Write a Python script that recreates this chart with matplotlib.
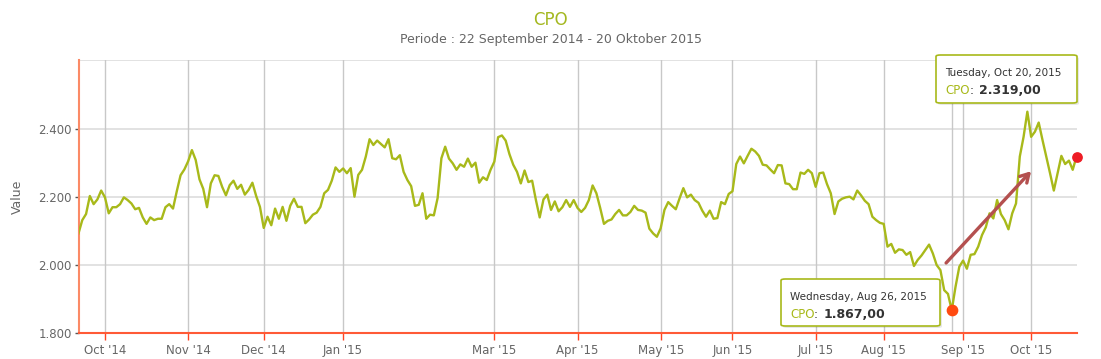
import matplotlib

matplotlib.use("Agg")
import matplotlib.pyplot as plt
import numpy as np
from matplotlib.patches import FancyBboxPatch

# CPO daily closing price, 22 Sep 2014 - 20 Oct 2015 (one value per trading day)
cpo_values = [
    2093, 2132, 2150, 2203, 2179, 2193, 2219, 2199, 2152, 2170,
    2170, 2179, 2199, 2191, 2181, 2164, 2168, 2140, 2121, 2140,
    2132, 2136, 2136, 2170, 2179, 2166, 2217, 2264, 2281, 2305,
    2338, 2309, 2252, 2224, 2170, 2240, 2264, 2262,
    2230, 2205, 2235, 2248, 2224, 2236, 2207, 2221, 2242, 2203,
    2171, 2109, 2142, 2117, 2166, 2136, 2171, 2130, 2174, 2195,
    2171, 2171, 2123, 2134, 2148, 2154, 2171, 2211, 2221, 2248,
    2287, 2274, 2284, 2270, 2285, 2201, 2265, 2280, 2319,
    2370, 2353, 2366, 2356, 2346, 2370, 2314, 2311, 2323, 2274,
    2250, 2232, 2174, 2177, 2211, 2136, 2148, 2146, 2197, 2314,
    2348, 2313, 2299, 2280, 2296, 2289, 2313, 2289, 2301, 2242,
    2258, 2250, 2280, 2304, 2376, 2381, 2366,
    2326, 2295, 2274, 2240, 2278, 2244, 2248, 2191, 2140, 2193,
    2207, 2162, 2187, 2158, 2170, 2191, 2171, 2191, 2168, 2156,
    2168, 2191, 2234, 2211, 2168, 2121, 2130, 2134, 2150, 2162,
    2146, 2146, 2156, 2174, 2162, 2160, 2154, 2107, 2093,
    2083, 2108, 2162, 2185, 2174, 2164, 2196, 2226, 2199, 2207,
    2191, 2183, 2160, 2142, 2160, 2136, 2138, 2185, 2179, 2209,
    2217, 2297, 2319, 2299, 2321, 2342, 2334, 2321, 2295, 2293,
    2281, 2270, 2294, 2293, 2240, 2238, 2223, 2223,
    2272, 2268, 2280, 2270, 2230, 2270, 2272, 2238, 2211, 2150,
    2187, 2195, 2199, 2201, 2193, 2219, 2205, 2189, 2179, 2142,
    2132, 2124, 2121, 2054, 2062, 2036, 2046, 2044, 2030, 2038,
    1997, 2015, 2028, 2044, 2060, 2034, 2000, 1985,
    1926, 1915, 1867, 1936, 1995, 2013, 1989, 2030, 2032, 2054,
    2088, 2111, 2152, 2137, 2191, 2150, 2132, 2105, 2152, 2181,
    2319, 2377, 2451, 2377, 2392, 2419, 2368, 2319, 2270, 2219,
    2270, 2321, 2297, 2307, 2280, 2319,
]

# index of first trading day of each month shown on the axis
month_tick_idx = [7, 29, 49, 70, 110, 132, 154, 173, 195, 213, 234, 252]
month_labels = ["Oct '14", "Nov '14", "Dec '14", "Jan '15", "Mar '15", "Apr '15",
                "May '15", "Jun '15", "Jul '15", "Aug '15", "Sep '15", "Oct '15"]
y_ticks = [1800, 2000, 2200, 2400]
y_labels = ["1.800", "2.000", "2.200", "2.400"]

low_label = "Wednesday, Aug 26, 2015"
high_label = "Tuesday, Oct 20, 2015"

LINE = "#a8b91a"
GREY = "#666666"
W, H = 1101, 359

plt.rcParams["font.family"] = ["DejaVu Sans"]

fig = plt.figure(figsize=(W / 100, H / 100), dpi=100)
ax = fig.add_axes([78.5 / W, 1 - 333 / H, (1076.5 - 78.5) / W, (333 - 60) / H])

x = np.arange(len(cpo_values))
y = np.array(cpo_values)

ax.plot(x, y, color=LINE, lw=1.7, zorder=3, solid_joinstyle="round")

ax.set_xlim(0, len(x) - 1)
ax.set_ylim(1800, 2603)

# grid
for yt in y_ticks[1:] + [2603]:
    ax.axhline(yt, color="#e2e2e2", lw=1.4, zorder=1)
for xt in month_tick_idx:
    ax.axvline(xt, color="#c8c8c8", lw=1.0, zorder=1)
i_low = int(np.argmin(y))
i_last = len(y) - 1
ax.axvline(i_low, color="#c8c8c8", lw=1.0, zorder=1)

ax.set_xticks(month_tick_idx)
ax.set_xticklabels(month_labels)
ax.set_yticks(y_ticks)
ax.set_yticklabels(y_labels)
ax.tick_params(axis="x", colors="#ff4422", length=5, width=1, labelcolor=GREY,
               labelsize=8.5, pad=3)
ax.tick_params(axis="y", colors="#555555", length=3, width=1, labelcolor=GREY,
               labelsize=8.5, pad=2)

for s in ["top", "right"]:
    ax.spines[s].set_visible(False)
ax.spines["left"].set_color("#fb8a66")
ax.spines["left"].set_linewidth(1.5)
ax.spines["bottom"].set_color("#ff5a36")
ax.spines["bottom"].set_linewidth(1.5)

ax.set_ylabel("Value", color=GREY, fontsize=9, labelpad=10)

# highlighted points
ax.scatter([i_low], [y[i_low]], s=55, color="#ff4a10", zorder=5, clip_on=False)
ax.scatter([i_last], [y[i_last]], s=45, color="#ee1c25", zorder=5, clip_on=False)

# trend arrow
ax.annotate("", xy=(i_low + 21.5, 2282), xytext=(i_low - 2, 2000),
            arrowprops=dict(arrowstyle="->,head_length=0.6,head_width=0.35",
                            color="#b4504f", lw=2.4), zorder=4)

fig.text(0.5, 1 - 20 / H, "CPO", ha="center", va="center", color="#a4b820", fontsize=12)
fig.text(0.5, 1 - 40 / H, "Periode : 22 September 2014 - 20 Oktober 2015",
         ha="center", va="center", color=GREY, fontsize=9)


def tooltip(x0, y0, w, h, date_text, value):
    """tooltip box in pixel coordinates (top-left origin)"""
    fx, fy = x0 / W, 1 - (y0 + h) / H
    shadow = FancyBboxPatch((fx + 2 / W, fy - 2 / H), w / W, h / H,
                            boxstyle="round,pad=0,rounding_size=0.004",
                            transform=fig.transFigure, fc="#00000018", ec="none", zorder=9)
    box = FancyBboxPatch((fx, fy), w / W, h / H,
                         boxstyle="round,pad=0,rounding_size=0.004",
                         transform=fig.transFigure, fc="white", ec=LINE, lw=1.2, zorder=10)
    fig.patches.extend([shadow, box])
    fig.text((x0 + 9) / W, 1 - (y0 + 18) / H, date_text, ha="left", va="center",
             color="#333333", fontsize=7.5, zorder=11)
    t = fig.text((x0 + 9) / W, 1 - (y0 + 36) / H, "CPO", ha="left", va="center",
                 color=LINE, fontsize=8.5, zorder=11)
    fig.canvas.draw()
    bb = t.get_window_extent()
    fig.text(bb.x1 / W, 1 - (y0 + 36) / H, ": ", ha="left", va="center",
             color="#333333", fontsize=8.5, zorder=11)
    fig.text((bb.x1 + 9) / W, 1 - (y0 + 36) / H, f"{value:,.2f}".replace(",", " ").replace(".", ",").replace(" ", "."),
             ha="left", va="center", color="#333333", fontsize=9, fontweight="bold", zorder=11)


tooltip(781, 279, 159, 47, low_label, y[i_low])
tooltip(936, 55, 141, 48, high_label, y[i_last])

fig.savefig("out.png", dpi=100)
